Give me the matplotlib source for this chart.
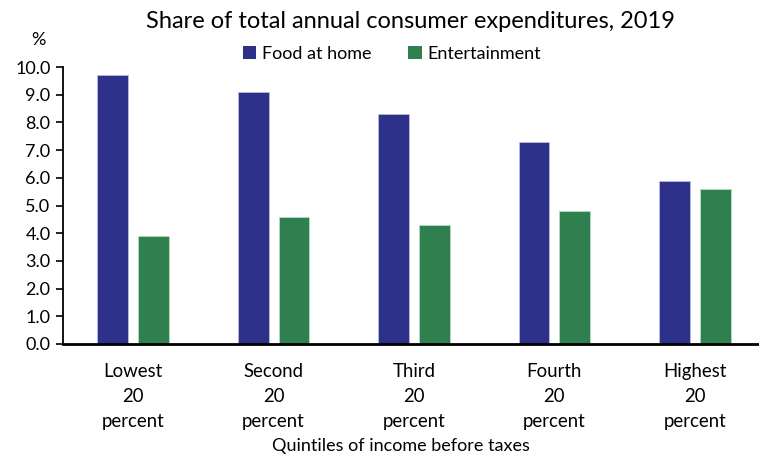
import matplotlib
matplotlib.use("Agg")
import matplotlib.pyplot as plt
import numpy as np
from matplotlib.ticker import FormatStrFormatter
from matplotlib.patches import Patch

categories = ["Lowest\n20\npercent", "Second\n20\npercent", "Third\n20\npercent",
              "Fourth\n20\npercent", "Highest\n20\npercent"]
food_at_home = [9.7, 9.1, 8.3, 7.3, 5.9]
entertainment = [3.9, 4.6, 4.3, 4.8, 5.6]
series_names = ["Food at home", "Entertainment"]
colors = ["#2E3189", "#30804F"]

plt.rcParams['font.family'] = ['Lato', 'DejaVu Sans']

W, H = 759, 457
fig = plt.figure(figsize=(W/100, H/100), dpi=100)
left, right = 63, 765
bottom, top = 344, 67
ax = fig.add_axes([left/W, (H-bottom)/H, (right-left)/W, (bottom-top)/H])

x = np.arange(len(categories))
bw = 0.22
ax.bar(x - 0.145, food_at_home, bw, color=colors[0], edgecolor="#B8BCE0", linewidth=0.6)
ax.bar(x + 0.145, entertainment, bw, color=colors[1], edgecolor="#B8DCC4", linewidth=0.6)

ax.set_xlim(-0.5, len(categories) - 0.5)
ax.set_ylim(0, 10)
ax.set_yticks(np.arange(0, 10.01, 1.0))
ax.yaxis.set_major_formatter(FormatStrFormatter('%.1f'))
ax.set_xticks(x)
ax.set_xticklabels(categories, fontsize=13.4, linespacing=1.55)
ax.tick_params(axis='x', length=0, pad=14)
ax.tick_params(axis='y', length=5, width=1.2, labelsize=13, pad=4, direction='out')

for s in ['top', 'right']:
    ax.spines[s].set_visible(False)
ax.spines['left'].set_linewidth(1.3)
ax.spines['bottom'].set_linewidth(2)
ax.spines['bottom'].set_clip_on(False)

fig.text(410/W, 1 - 21/H, "Share of total annual consumer expenditures, 2019",
         ha='center', va='center', fontsize=17)
fig.text(38/W, 1 - 40/H, "%", ha='center', va='center', fontsize=13)
fig.text(401/W, 1 - 446/H, "Quintiles of income before taxes", ha='center', va='center', fontsize=13)

handles = [Patch(facecolor=colors[0]), Patch(facecolor=colors[1])]
fig.legend(handles, series_names, loc='center', bbox_to_anchor=(392/W, 1 - 54/H),
           ncol=2, frameon=False, fontsize=13, handlelength=0.75, handleheight=0.75,
           handletextpad=0.35, columnspacing=2.0)

fig.savefig("out.png", dpi=100)
